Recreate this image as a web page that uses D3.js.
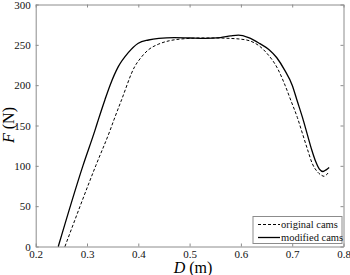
<!DOCTYPE html>
<html>
<head>
<meta charset="utf-8">
<script src="https://cdn.jsdelivr.net/npm/d3@7"></script>
<style>
  body { margin: 0; background: #fff; }
  text { font-family: "Liberation Serif", "DejaVu Serif", serif; }
</style>
</head>
<body>
<div id="chart"></div>
<script>
// Dados: D (m) e F (N)
const origD = [0.257, 0.317, 0.345, 0.3525, 0.3675, 0.393, 0.405, 0.42, 0.44, 0.46, 0.48, 0.50, 0.52, 0.55, 0.578, 0.6, 0.617, 0.635, 0.65, 0.672, 0.686, 0.698, 0.710, 0.720, 0.730, 0.739, 0.750, 0.758, 0.762, 0.767, 0.771];
const origF = [0, 100, 144, 157, 182, 223, 234, 244, 251, 255, 257, 258, 258.5, 258.5, 258, 257, 255, 249, 240, 220, 200, 180, 160, 140, 120, 103, 92, 88, 87, 89, 92];

const modD = [0.244, 0.292, 0.3155, 0.322, 0.335, 0.345, 0.361, 0.380, 0.400, 0.42, 0.44, 0.47, 0.5, 0.53, 0.56, 0.58, 0.595, 0.615, 0.637, 0.655, 0.67, 0.685, 0.700, 0.710, 0.720, 0.729, 0.738, 0.746, 0.753, 0.760, 0.766, 0.772];
const modF = [0, 100, 144, 157, 182, 200, 223, 240, 252, 256, 258, 259, 258.5, 258, 259, 261, 262, 259, 251.5, 244, 234, 219, 200, 180, 160, 140, 120, 105, 96, 93, 95, 98];

const xTicks = [0.2, 0.3, 0.4, 0.5, 0.6, 0.7, 0.8];
const yTicks = [0, 50, 100, 150, 200, 250, 300];
const legendLabels = ['original cams', 'modified cams'];

const W = 350, H = 275;
const mLeft = 35.7, mRight = 343.5, mTop = 4.5, mBottom = 246.5;

const svg = d3.select('#chart').append('svg')
  .attr('width', W).attr('height', H);

const x = d3.scaleLinear().domain([0.2, 0.8]).range([mLeft, mRight]);
const y = d3.scaleLinear().domain([0, 300]).range([mBottom, mTop]);

// Eixos (ticks para dentro, espelhados)
const axisColor = '#8c8c8c';
function styleAxis(g) {
  g.select('.domain').attr('stroke', axisColor);
  g.selectAll('.tick line').attr('stroke', axisColor);
  g.selectAll('.tick text').attr('fill', '#111').style('font-size', '11px')
    .style('font-family', '"Liberation Serif", serif');
}

svg.append('g')
  .attr('transform', `translate(0,${mBottom})`)
  .call(d3.axisBottom(x).tickValues(xTicks).tickFormat(d3.format('.1f')).tickSizeInner(-3).tickSizeOuter(0).tickPadding(4))
  .call(styleAxis);

svg.append('g')
  .attr('transform', `translate(0,${mTop})`)
  .call(d3.axisTop(x).tickValues(xTicks).tickFormat('').tickSizeInner(-3).tickSizeOuter(0))
  .call(styleAxis);

svg.append('g')
  .attr('transform', `translate(${mLeft},0)`)
  .call(d3.axisLeft(y).tickValues(yTicks).tickFormat(d3.format('d')).tickSizeInner(-3).tickSizeOuter(0).tickPadding(5))
  .call(styleAxis);

svg.append('g')
  .attr('transform', `translate(${mRight},0)`)
  .call(d3.axisRight(y).tickValues(yTicks).tickFormat('').tickSizeInner(-3).tickSizeOuter(0))
  .call(styleAxis);

// Curvas
const line = d3.line()
  .x(d => x(d[0]))
  .y(d => y(d[1]))
  .curve(d3.curveMonotoneX);

const origData = origD.map((d, i) => [d, origF[i]]);
const modData = modD.map((d, i) => [d, modF[i]]);

svg.append('path')
  .datum(origData)
  .attr('fill', 'none')
  .attr('stroke', '#000')
  .attr('stroke-width', 1)
  .attr('stroke-dasharray', '3,2')
  .attr('d', line);

svg.append('path')
  .datum(modData)
  .attr('fill', 'none')
  .attr('stroke', '#000')
  .attr('stroke-width', 1.3)
  .attr('d', line);

// Rótulos dos eixos
svg.append('text')
  .attr('x', 193)
  .attr('y', 273)
  .attr('text-anchor', 'middle')
  .style('font-size', '16px')
  .html('<tspan font-style="italic">D</tspan> (m)');

svg.append('text')
  .attr('transform', 'translate(14,125) rotate(-90)')
  .attr('text-anchor', 'middle')
  .style('font-size', '16px')
  .html('<tspan font-style="italic">F</tspan> (N)');

// Legenda
const legend = svg.append('g').attr('transform', 'translate(253,216.5)');
legend.append('rect')
  .attr('width', 89).attr('height', 27)
  .attr('fill', '#fff')
  .attr('stroke', axisColor);

legendLabels.forEach((lab, i) => {
  const ly = 8 + i * 13;
  legend.append('line')
    .attr('x1', 5).attr('x2', 27)
    .attr('y1', ly).attr('y2', ly)
    .attr('stroke', '#000')
    .attr('stroke-width', i === 0 ? 1 : 1.3)
    .attr('stroke-dasharray', i === 0 ? '3,2' : null);
  legend.append('text')
    .attr('x', 28)
    .attr('y', ly + 3.5)
    .style('font-size', '10.5px')
    .attr('fill', '#111')
    .text(lab);
});
</script>
</body>
</html>
